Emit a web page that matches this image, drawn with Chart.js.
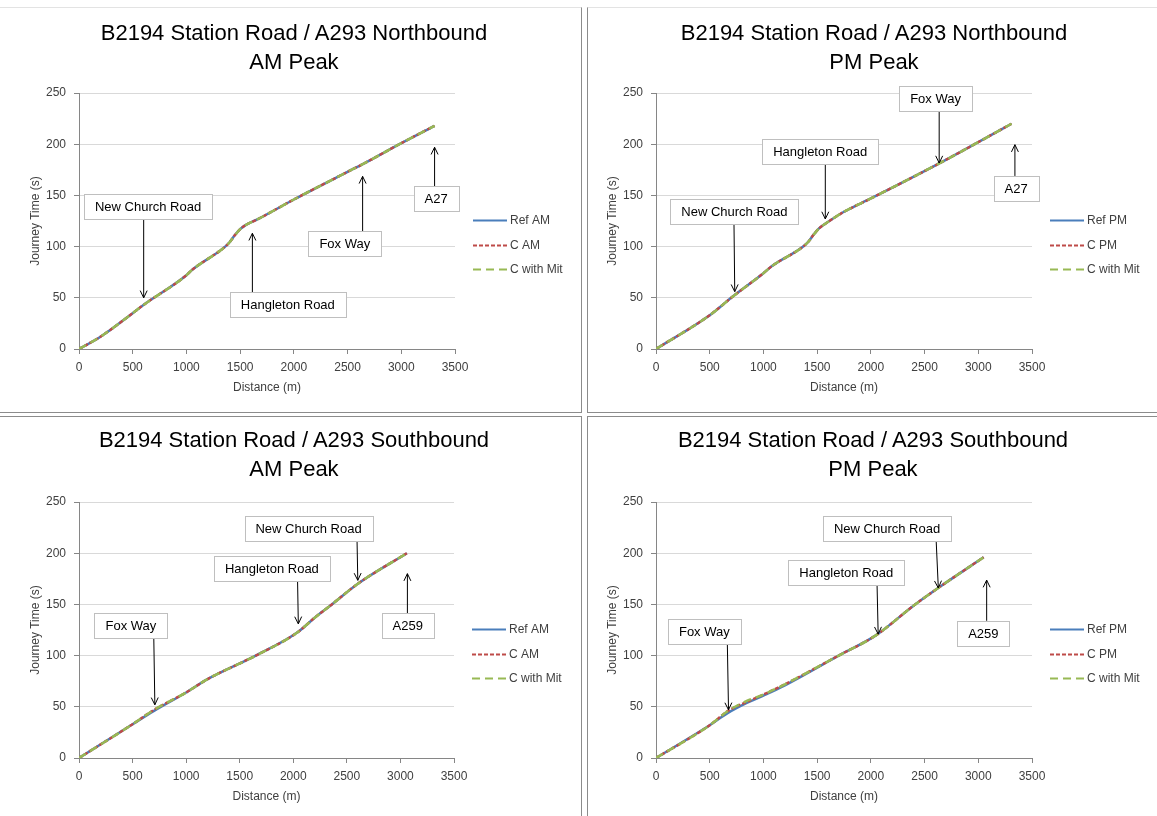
<!DOCTYPE html>
<html>
<head>
<meta charset="utf-8">
<script src="https://cdn.jsdelivr.net/npm/chart.js@4.4.1/dist/chart.umd.min.js"></script>
<style>
body { margin: 0; background: #fff; width: 1157px; height: 816px; overflow: hidden; position: relative; font-family: "Liberation Sans", Arial, sans-serif; }
.panel { position: absolute; box-sizing: border-box; border: 1px solid #8c8c8c; background: #fff; }
.panel.top { border-top-color: #e3e3e3; }
.panel canvas { position: absolute; left: 0; top: 0; }
.title { position: absolute; width: 500px; text-align: center; font-size: 22px; line-height: 29px; color: #000; }
</style>
</head>
<body>
<div class="panel top" style="left:-1px;top:7px;width:583px;height:406px"><canvas id="nbAm" width="581" height="404"></canvas></div>
<div class="panel top" style="left:587px;top:7px;width:575px;height:406px"><canvas id="nbPm" width="573" height="404"></canvas></div>
<div class="panel" style="left:-1px;top:416px;width:583px;height:406px"><canvas id="sbAm" width="581" height="404"></canvas></div>
<div class="panel" style="left:587px;top:416px;width:575px;height:406px"><canvas id="sbPm" width="573" height="404"></canvas></div>

<div class="title" style="left:44px;top:18px">B2194 Station Road / A293 Northbound<br>AM Peak</div>
<div class="title" style="left:624px;top:18px">B2194 Station Road / A293 Northbound<br>PM Peak</div>
<div class="title" style="left:44px;top:425px">B2194 Station Road / A293 Southbound<br>AM Peak</div>
<div class="title" style="left:623px;top:425px">B2194 Station Road / A293 Southbound<br>PM Peak</div>

<script>
// axis ticks
var distTicks = [0, 500, 1000, 1500, 2000, 2500, 3000, 3500];
var timeTicks = [0, 50, 100, 150, 200, 250];

// Northbound AM
var nbAmDist = [0, 200, 500, 600, 1000, 1050, 1350, 1400, 1450, 1500, 1550, 1650, 2000, 2500, 2650, 3000, 3310];
var nbAmRef  = [0, 12, 35, 43, 72, 77, 99, 104, 111, 117, 121, 126, 146, 173, 181, 201, 218];
var nbAmC    = [0, 12, 35, 43, 72, 77, 99, 104, 111, 117, 121, 126, 146, 173, 181, 201, 218];
var nbAmMit  = [0, 12, 35, 43, 72, 77, 99, 104, 111, 117, 121, 126, 146, 173, 181, 201, 218];

// Northbound PM
var nbPmDist = [0, 500, 700, 1000, 1080, 1370, 1420, 1470, 1520, 1600, 1750, 2000, 2650, 3000, 3310];
var nbPmRef  = [0, 33, 50, 74, 81, 100, 105, 112, 118, 124, 134, 147, 182, 202, 220];
var nbPmC    = [0, 33, 50, 74, 81, 100, 105, 112, 118, 124, 134, 147, 182, 202, 220];
var nbPmMit  = [0, 33, 50, 74, 81, 100, 105, 112, 118, 124, 134, 147, 182, 202, 220];

// Southbound AM
var sbAmDist = [0, 500, 700, 1000, 1200, 1650, 2030, 2200, 2360, 2600, 3060];
var sbAmRef  = [0, 33, 46, 64, 77, 100, 122, 137, 150, 170, 200];
var sbAmC    = [0, 33, 47, 64, 77, 100, 122, 137, 150, 170, 200];
var sbAmMit  = [0, 33, 47, 64, 77, 100, 122, 137, 150, 170, 200];

// Southbound PM
var sbPmDist = [0, 500, 670, 850, 1000, 1200, 1700, 2050, 2400, 2640, 3050];
var sbPmRef  = [0, 32, 44, 54, 61, 71, 100, 120, 149, 167, 196];
var sbPmC    = [0, 32, 46, 55, 62, 72, 100, 120, 149, 167, 196];
var sbPmMit  = [0, 32, 46, 56, 62, 72, 100, 120, 149, 167, 196];

// labelled junctions: box centre and arrow ends, in axis units
var nbAmNotes = [
    { text: 'New Church Road', bx: 643, by: 139, from: [602, 127], to: [602, 50] },
    { text: 'Hangleton Road', bx: 1944, by: 43.6, from: [1614, 55], to: [1614, 113] },
    { text: 'Fox Way', bx: 2474, by: 103, from: [2640, 115], to: [2640, 168.6] },
    { text: 'A27', bx: 3324, by: 147, from: [3310, 159], to: [3310, 197] }
];
var nbPmNotes = [
    { text: 'Fox Way', bx: 2602, by: 245, from: [2636, 233], to: [2636, 181.6] },
    { text: 'Hangleton Road', bx: 1528, by: 193, from: [1576, 181], to: [1576, 127] },
    { text: 'New Church Road', bx: 730, by: 134, from: [726, 122], to: [733, 56] },
    { text: 'A27', bx: 3352, by: 157, from: [3341, 169], to: [3341, 199.5] }
];
var sbAmNotes = [
    { text: 'Fox Way', bx: 484, by: 129.6, from: [698, 117.5], to: [708, 52] },
    { text: 'Hangleton Road', bx: 1800, by: 185, from: [2040, 173], to: [2047, 131] },
    { text: 'New Church Road', bx: 2142, by: 224.6, from: [2595, 212.6], to: [2602, 173.5] },
    { text: 'A259', bx: 3068, by: 129, from: [3065, 141], to: [3065, 180] }
];
var sbPmNotes = [
    { text: 'Fox Way', bx: 450, by: 124, from: [664, 112], to: [675, 47] },
    { text: 'Hangleton Road', bx: 1771, by: 181.5, from: [2058, 168], to: [2068, 121] },
    { text: 'New Church Road', bx: 2151, by: 224, from: [2608, 212], to: [2628, 166] },
    { text: 'A259', bx: 3047, by: 122, from: [3078, 134], to: [3078, 173.7] }
];

var FONT = '"Liberation Sans", Arial, sans-serif';
Chart.defaults.font.family = FONT;
Chart.defaults.font.size = 12;
Chart.defaults.color = '#404040';

var notesPlugin = {
    id: 'notes',
    afterDatasetsDraw: function (chart, args, opts) {
        var ctx = chart.ctx, xs = chart.scales.x, ys = chart.scales.y;
        ctx.save();
        ctx.setLineDash([]);
        opts.items.forEach(function (n) {
            var x1 = xs.getPixelForValue(n.from[0]), y1 = ys.getPixelForValue(n.from[1]);
            var x2 = xs.getPixelForValue(n.to[0]), y2 = ys.getPixelForValue(n.to[1]);
            var a = Math.atan2(y2 - y1, x2 - x1);
            ctx.strokeStyle = '#000';
            ctx.lineWidth = 1;
            ctx.beginPath();
            ctx.moveTo(x1, y1);
            ctx.lineTo(x2, y2);
            ctx.moveTo(x2 - 8 * Math.cos(a - 0.45), y2 - 8 * Math.sin(a - 0.45));
            ctx.lineTo(x2, y2);
            ctx.lineTo(x2 - 8 * Math.cos(a + 0.45), y2 - 8 * Math.sin(a + 0.45));
            ctx.stroke();

            ctx.font = '13px ' + FONT;
            var w = Math.round(ctx.measureText(n.text).width + 22), h = 25;
            var cx = xs.getPixelForValue(n.bx), cy = ys.getPixelForValue(n.by);
            var bx = Math.round(cx - w / 2) + 0.5, by = Math.round(cy - h / 2) + 0.5;
            ctx.fillStyle = '#fff';
            ctx.fillRect(bx, by, w, h);
            ctx.strokeStyle = '#bfbfbf';
            ctx.strokeRect(bx, by, w, h);
            ctx.fillStyle = '#000';
            ctx.textAlign = 'center';
            ctx.textBaseline = 'middle';
            ctx.fillText(n.text, cx, cy + 1);
        });
        ctx.restore();
    }
};

var lineLegend = {
    id: 'lineLegend',
    afterDraw: function (chart) {
        var ctx = chart.ctx, area = chart.chartArea;
        ctx.save();
        chart.data.datasets.forEach(function (ds, i) {
            var y = Math.round(area.top + 127 + i * 24.5) + 0.5;
            var x0 = area.right + 18;
            ctx.strokeStyle = ds.borderColor;
            ctx.lineWidth = 2;
            ctx.setLineDash(ds.borderDash || []);
            ctx.beginPath();
            ctx.moveTo(x0, y);
            ctx.lineTo(x0 + 34, y);
            ctx.stroke();
            ctx.setLineDash([]);
            ctx.fillStyle = '#404040';
            ctx.font = '12px ' + FONT;
            ctx.textAlign = 'left';
            ctx.textBaseline = 'middle';
            ctx.fillText(ds.label, x0 + 37, y);
        });
        ctx.restore();
    }
};

function series(label, dist, time, color, dash, order) {
    return {
        label: label,
        data: dist.map(function (d, i) { return { x: d, y: time[i] }; }),
        borderColor: color,
        backgroundColor: color,
        borderWidth: 2.5,
        borderDash: dash,
        pointRadius: 0,
        cubicInterpolationMode: 'monotone',
        fill: false,
        order: order
    };
}

function makeChart(id, period, dist, ref, c, mit, notes, padL, padR) {
    new Chart(document.getElementById(id), {
        type: 'line',
        data: {
            datasets: [
                series('Ref ' + period, dist, ref, '#4a7ebb', [], 3),
                series('C ' + period, dist, c, '#be4b48', [4, 2], 2),
                series('C with Mit', dist, mit, '#98b954', [8, 5], 1)
            ]
        },
        options: {
            responsive: false,
            animation: false,
            layout: { padding: { left: padL, right: padR, top: 85, bottom: 17 } },
            plugins: {
                legend: { display: false },
                tooltip: { enabled: false },
                notes: { items: notes }
            },
            scales: {
                x: {
                    type: 'linear', min: 0, max: 3500,
                    afterBuildTicks: function (s) { s.ticks = distTicks.map(function (v) { return { value: v }; }); },
                    afterFit: function (s) { s.height = 46; },
                    grid: { drawOnChartArea: false, drawTicks: true, tickLength: 5, tickColor: '#868686' },
                    border: { color: '#868686' },
                    ticks: { padding: 6, maxRotation: 0, autoSkip: false, callback: function (v) { return String(v); } },
                    title: { display: true, text: 'Distance (m)', padding: { top: 4, bottom: 0 } }
                },
                y: {
                    min: 0, max: 250,
                    afterBuildTicks: function (s) { s.ticks = timeTicks.map(function (v) { return { value: v }; }); },
                    afterFit: function (s) { s.width = 59; },
                    grid: { color: '#d9d9d9', tickLength: 5, tickColor: '#868686' },
                    border: { color: '#868686' },
                    ticks: { padding: 8, callback: function (v) { return String(v); } },
                    title: { display: true, text: 'Journey Time (s)', padding: { top: 8, bottom: 0 } }
                }
            }
        },
        plugins: [notesPlugin, lineLegend]
    });
}

makeChart('nbAm', 'AM', nbAmDist, nbAmRef, nbAmC, nbAmMit, nbAmNotes, 20, 126);
makeChart('nbPm', 'PM', nbPmDist, nbPmRef, nbPmC, nbPmMit, nbPmNotes, 9, 129);
makeChart('sbAm', 'AM', sbAmDist, sbAmRef, sbAmC, sbAmMit, sbAmNotes, 20, 127);
makeChart('sbPm', 'PM', sbPmDist, sbPmRef, sbPmC, sbPmMit, sbPmNotes, 9, 129);
</script>
</body>
</html>
